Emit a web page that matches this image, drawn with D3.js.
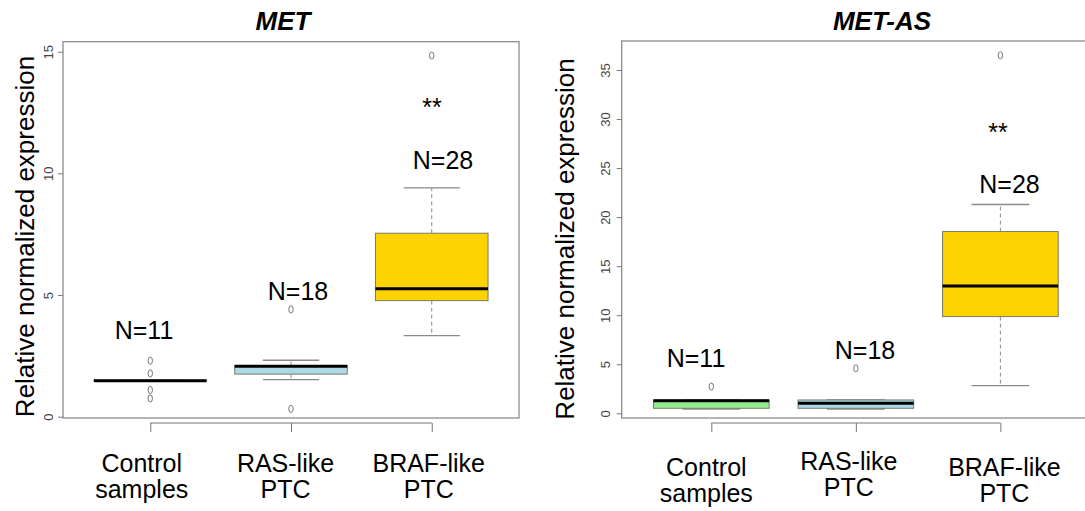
<!DOCTYPE html>
<html>
<head>
<meta charset="utf-8">
<script src="https://cdn.jsdelivr.net/npm/d3@7/dist/d3.min.js"></script>
<style>
  body { margin: 0; background: #fff; }
  svg { display: block; font-family: Arial, "Liberation Sans", sans-serif; }
</style>
</head>
<body>
<div id="chart"></div>
<script>
// categories and labels
const categories = ["Control samples", "RAS-like PTC", "BRAF-like PTC"];
const categoryLines = [["Control", "samples"], ["RAS-like", "PTC"], ["BRAF-like", "PTC"]];
const groupSizes = ["N=11", "N=18", "N=28"];
const boxColors = ["#90EE90", "#ADD8E6", "#FCD300"];

// MET : box stats per group
const metLow     = [1.48, 1.52, 3.33];
const metQ1      = [1.46, 1.75, 4.77];
const metMedian  = [1.48, 2.07, 5.26];
const metQ3      = [1.50, 2.10, 7.54];
const metHigh    = [1.50, 2.32, 9.40];
const metOutliers = [[2.30, 1.78, 1.10, 0.75], [4.41, 0.32], [14.84]];
const metTicks = [0, 5, 10, 15];

// MET-AS : box stats per group
const metasLow     = [0.44, 0.44, 2.82];
const metasQ1      = [0.51, 0.51, 9.86];
const metasMedian  = [1.29, 1.02, 12.99];
const metasQ3      = [1.36, 1.36, 18.53];
const metasHigh    = [1.36, 1.36, 21.29];
const metasOutliers = [[2.72], [4.59], [36.5]];
const metasTicks = [0, 5, 10, 15, 20, 25, 30, 35];

const W = 1085, H = 511;
const svg = d3.select("#chart").append("svg")
    .attr("width", W).attr("height", H);

const panels = [
  {
    title: "MET", titleX: 283,
    low: metLow, q1: metQ1, med: metMedian, q3: metQ3, high: metHigh, out: metOutliers,
    ticks: metTicks, yDomain: [0, 15], yRange: [416.7, 51.7],
    frame: {left: 63, right: 519, top: 41.7, bottom: 418},
    axisY: 423,
    ylabX: 33.5, ylabY: 236.5, tickLabOff: 10.5,
    nPos: [[144, 3.18], [298, 4.78], [443, 10.17]],   // x px, y in data units
    starPos: [432, 12.36],
    labDx: [-8.5, -5.5, -3], labY: [472, 472, 472]
  },
  {
    title: "MET-AS", titleX: 882,
    low: metasLow, q1: metasQ1, med: metasMedian, q3: metasQ3, high: metasHigh, out: metasOutliers,
    ticks: metasTicks, yDomain: [0, 35], yRange: [413.3, 70],
    frame: {left: 621.7, right: 1090, top: 41, bottom: 418},
    axisY: 423,
    ylabX: 573.5, ylabY: 239, tickLabOff: 12,
    nPos: [[696, 4.69], [865, 5.51], [1009.5, 22.5]],
    starPos: [998, 27.8],
    labDx: [-5, -7, 4], labY: [476, 470, 476]
  }
];

panels.forEach(p => {
  const g = svg.append("g");
  // R boxplot xlim: 0.5..3.5 extended by 4%
  const x = d3.scaleLinear().domain([0.38, 3.62]).range([p.frame.left, p.frame.right]);
  const y = d3.scaleLinear().domain(p.yDomain).range(p.yRange);
  const boxHW = (x(1.4) - x(1)) ;   // half of 0.8 box width
  const capHW = boxHW / 2;

  // frame
  g.append("rect")
    .attr("x", p.frame.left).attr("y", p.frame.top)
    .attr("width", p.frame.right - p.frame.left)
    .attr("height", p.frame.bottom - p.frame.top)
    .attr("fill", "none").attr("stroke", "#8c8c8c").attr("stroke-width", 1.3);

  // y axis
  const yAxis = g.append("g")
    .attr("transform", `translate(${p.frame.left},0)`)
    .call(d3.axisLeft(y).tickValues(p.ticks).tickSize(5).tickFormat(d3.format("d")));
  yAxis.select(".domain").remove();
  yAxis.selectAll("line").attr("stroke", "#777");
  yAxis.selectAll("text")
    .attr("transform", "rotate(-90)")
    .attr("x", 0).attr("y", -p.tickLabOff).attr("dy", 0)
    .attr("text-anchor", "middle")
    .attr("font-size", 13).attr("fill", "#444")
    .attr("font-family", "Arial, 'Liberation Sans', sans-serif");

  // x axis
  const xAxis = g.append("g")
    .attr("transform", `translate(0,${p.axisY})`)
    .call(d3.axisBottom(x).tickValues([1, 2, 3]).tickSize(9).tickFormat(""));
  xAxis.select(".domain")
    .attr("d", `M${x(1)},0H${x(3)}`)
    .attr("stroke", "#777").attr("stroke-width", 1.2);
  xAxis.selectAll("line").attr("stroke", "#777");

  // x labels, two lines each
  categoryLines.forEach((lines, i) => {
    lines.forEach((ln, j) => {
      g.append("text")
        .attr("x", x(i + 1) + p.labDx[i]).attr("y", p.labY[i] + j * 26)
        .attr("text-anchor", "middle").attr("font-size", 25).attr("fill", "#000")
        .text(ln);
    });
  });

  // y title
  g.append("text")
    .attr("transform", `translate(${p.ylabX},${p.ylabY}) rotate(-90)`)
    .attr("text-anchor", "middle").attr("font-size", 26).attr("fill", "#000")
    .text("Relative normalized expression");

  // title
  g.append("text")
    .attr("x", p.titleX).attr("y", 30)
    .attr("text-anchor", "middle").attr("font-size", 26)
    .attr("font-weight", "bold").attr("font-style", "italic")
    .text(p.title);

  // boxes
  categories.forEach((c, i) => {
    const cx = x(i + 1);
    const bg = g.append("g");
    // whiskers
    [[p.q3[i], p.high[i]], [p.q1[i], p.low[i]]].forEach(([a, b]) => {
      if (Math.abs(y(a) - y(b)) > 1) {
        bg.append("line")
          .attr("x1", cx).attr("x2", cx).attr("y1", y(a)).attr("y2", y(b))
          .attr("stroke", "#8a8a8a").attr("stroke-width", 1).attr("stroke-dasharray", "4,3");
      }
      bg.append("line")
        .attr("x1", cx - capHW).attr("x2", cx + capHW).attr("y1", y(b)).attr("y2", y(b))
        .attr("stroke", "#8a8a8a").attr("stroke-width", 1.3);
    });
    // box
    bg.append("rect")
      .attr("x", cx - boxHW).attr("width", 2 * boxHW)
      .attr("y", y(p.q3[i])).attr("height", Math.max(0.5, y(p.q1[i]) - y(p.q3[i])))
      .attr("fill", boxColors[i]).attr("stroke", "#7a7a6a").attr("stroke-width", 1);
    // median
    bg.append("line")
      .attr("x1", cx - boxHW).attr("x2", cx + boxHW)
      .attr("y1", y(p.med[i])).attr("y2", y(p.med[i]))
      .attr("stroke", "#000").attr("stroke-width", 3);
    // outliers
    bg.selectAll("ellipse").data(p.out[i]).join("ellipse")
      .attr("cx", cx).attr("cy", d => y(d))
      .attr("rx", 2.2).attr("ry", 3.6)
      .attr("fill", "none").attr("stroke", "#666").attr("stroke-width", 0.9);

    // N labels
    g.append("text")
      .attr("x", p.nPos[i][0]).attr("y", y(p.nPos[i][1]))
      .attr("text-anchor", "middle").attr("font-size", 25)
      .text(groupSizes[i]);
  });

  // significance
  g.append("text")
    .attr("x", p.starPos[0]).attr("y", y(p.starPos[1]))
    .attr("text-anchor", "middle").attr("font-size", 25)
    .text("**");
});
</script>
</body>
</html>
